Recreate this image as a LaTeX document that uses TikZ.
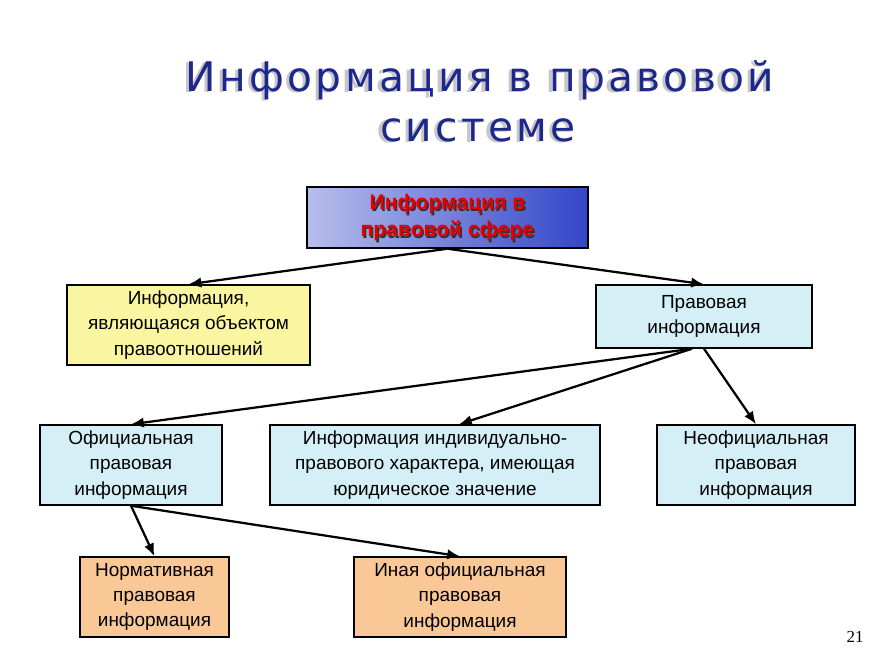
\documentclass[tikz,border=0pt]{standalone}
\usepackage{fontspec}
\setmainfont{Liberation Sans}
\newfontfamily\titlefont[LetterSpace=8]{DejaVu Sans}
\newfontfamily\numfont{Liberation Serif}
\usepackage{xcolor}
\usetikzlibrary{arrows.meta}

\definecolor{titleblue}{RGB}{30,40,140}
\definecolor{lawyellow}{RGB}{250,245,160}
\definecolor{lawcyan}{RGB}{212,240,246}
\definecolor{laworange}{RGB}{250,200,150}
\definecolor{gradblue}{RGB}{50,70,200}

% text with a soft shadow behind it
\newcommand\shadowed[4]{%
  \makebox[0pt][l]{\hspace*{#2}\raisebox{#3}{\color{#4}#1}}#1}

\begin{document}
\begin{tikzpicture}[
    x=0.025cm, y=-0.025cm,
    box/.style={draw, line width=1pt, align=center, minimum height=2.0cm,
        font=\fontsize{13.5}{18}\selectfont, inner sep=2pt},
    titletext/.style={font=\titlefont\fontsize{29}{34}\selectfont, text=titleblue},
    redtext/.style={font=\bfseries\fontsize{15}{19}\selectfont, align=center, text=red!90!black},
    arrow/.style={-{Latex[length=3.2mm,width=2.6mm]}, line width=1.6pt}
]
\useasboundingbox (0,0) rectangle (892,666);

% title
\node[titletext] (title1) at (480,81) {\shadowed{Информация в правовой}{-2.5pt}{-1pt}{gray!45}};
\node[titletext] (title2) at (478,131) {\shadowed{системе}{-2.5pt}{-1pt}{gray!45}};

% top box
\node[box, minimum width=7.025cm, minimum height=1.525cm,
    left color=gradblue!35!white, middle color=white, right color=gradblue]
    (sphere) at (447.5,217.5) {};
\node[redtext] (spheretext) at (447.5,218.5)
    {\shadowed{Информация в}{1pt}{-1pt}{black!80}\\\shadowed{правовой сфере}{1pt}{-1pt}{black!80}};

% second level
\node[box, fill=lawyellow, minimum width=6.075cm] (object) at (188.5,325)
    {Информация,\\являющаяся объектом\\правоотношений};
\node[box, fill=lawcyan, minimum width=5.4cm, minimum height=1.575cm] (legal) at (704,316.5)
    {Правовая\\информация};

% third level
\node[box, fill=lawcyan, minimum width=4.55cm] (official) at (131,465)
    {Официальная\\правовая\\информация};
\node[box, fill=lawcyan, minimum width=8.25cm] (individual) at (435,465)
    {Информация индивидуально-\\правового характера, имеющая\\юридическое значение};
\node[box, fill=lawcyan, minimum width=4.95cm] (unofficial) at (756,465)
    {Неофициальная\\правовая\\информация};

% fourth level
\node[box, fill=laworange, minimum width=3.725cm] (normative) at (154.5,597)
    {Нормативная\\правовая\\информация};
\node[box, fill=laworange, minimum width=5.3cm] (other) at (460,597)
    {Иная официальная\\правовая\\информация};

\node[font=\numfont\fontsize{12}{14}\selectfont] (page) at (855,637) {21};

\draw[arrow] (sphere.south) -- (object.north);
\draw[arrow] (sphere.south) -- (legal.north);
\draw[arrow] ([xshift=-3mm]legal.south) -- (official.north);
\draw[arrow] ([xshift=-3mm]legal.south) -- ([xshift=6mm]individual.north);
\draw[arrow] (legal.south) -- (unofficial.north);
\draw[arrow] (official.south) -- (normative.north);
\draw[arrow] (official.south) -- (other.north);
\end{tikzpicture}
\end{document}
